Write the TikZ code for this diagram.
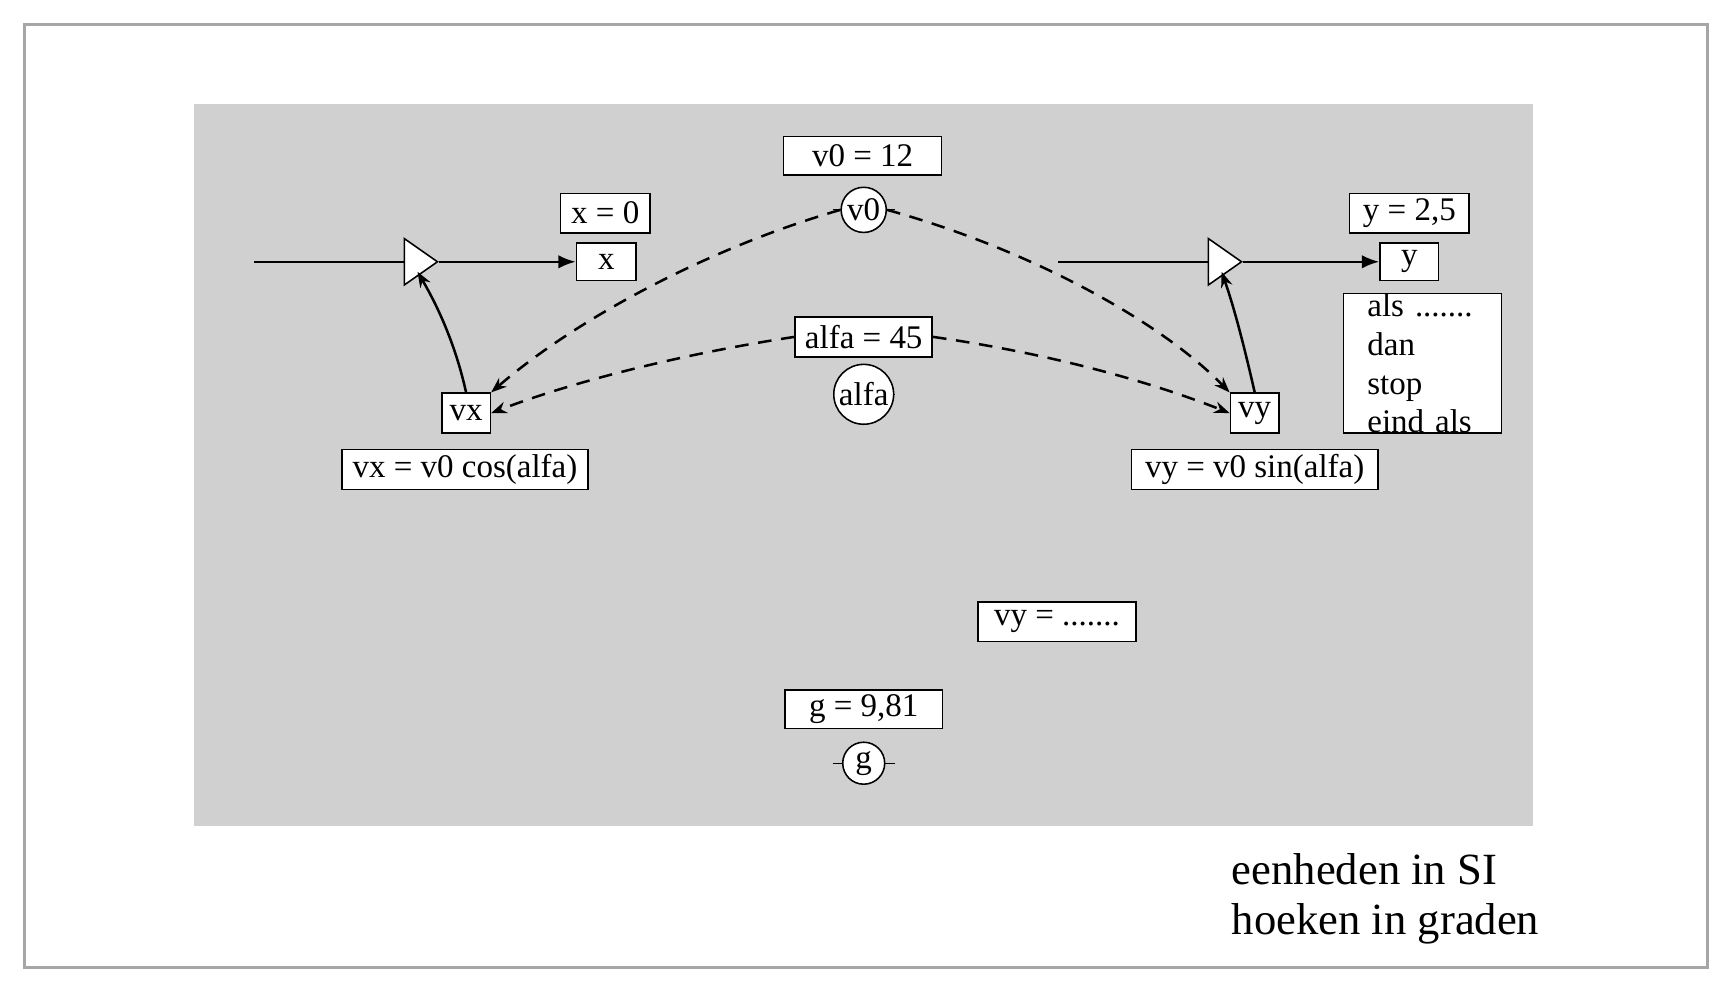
\documentclass[tikz,border=0pt]{standalone}
\usepackage{fontspec}
\setmainfont{Liberation Serif}
\usetikzlibrary{arrows.meta,shapes.geometric}
\definecolor{bg}{HTML}{D0D0D0}
\begin{document}
\begin{tikzpicture}[x=0.02cm,y=-0.02cm,font=\fontsize{17}{20}\selectfont,
  box/.style={draw,fill=white,inner sep=0pt,line width=0.8pt},
  circ/.style={draw,fill=white,circle,inner sep=1pt,line width=0.8pt},
  flow/.style={line width=1.3pt,-{Latex[length=9pt,width=7pt]}},
  link/.style={line width=1.3pt,dashed,dash pattern=on 7pt off 5pt,-{Stealth[length=8pt,width=6pt]}},
  valve/.style={draw,fill=white,isosceles triangle,isosceles triangle apex angle=70,minimum height=30\pgflinewidth,inner sep=0pt,line width=0.8pt,minimum size=0.5cm}]
\useasboundingbox (0,0) rectangle (1560,894);
\draw[gray!70,line width=1.5pt] (22,22) rectangle (1546,876);
\fill[bg] (176,94) rectangle (1388,748);
% left
\node[box,minimum width=143*0.02cm,minimum height=35*0.02cm] (v0e) at (781,141) {v0 = 12};
\draw (754,190) -- (810,190);
\node[circ,minimum size=40*0.02cm] (v0) at (782,190) {v0};
\node[box,minimum width=81*0.02cm,minimum height=36*0.02cm] (x0) at (548,193) {x = 0};
\node[box,minimum width=54*0.02cm,minimum height=34*0.02cm] (x) at (549,237) {x};
\coordinate (xs) at (230,237);
\node[valve,minimum width=0.55cm,minimum height=0.6cm] (vl) at (377,237) {};
\draw[line width=1.3pt] (xs) -- (vl.west);
\draw[flow] (vl.apex) -- (x.west);
\node[box,minimum width=44*0.02cm,minimum height=36*0.02cm] (vx) at (422,374) {vx};
\node[box,minimum width=223*0.02cm,minimum height=36*0.02cm] (vxe) at (421,425) {vx = v0 cos(alfa)};
\draw[line width=1.3pt,-{Stealth[length=8pt,width=6pt]}] (vx.north) .. controls (412,310) and (395,275) .. (378,246);
% alfa
\node[box,minimum width=124*0.02cm,minimum height=36*0.02cm] (ae) at (782,305) {alfa = 45};
\draw (754,357) -- (810,357);
\node[circ,minimum size=52*0.02cm] (al) at (782,357) {alfa};
% right
\node[box,minimum width=108*0.02cm,minimum height=36*0.02cm] (y0) at (1276,193) {y = 2,5};
\node[box,minimum width=53*0.02cm,minimum height=34*0.02cm] (y) at (1276,237) {y};
\coordinate (ys) at (958,237);
\node[valve,minimum width=0.55cm,minimum height=0.6cm] (vr) at (1105,237) {};
\draw[line width=1.3pt] (ys) -- (vr.west);
\draw[flow] (vr.apex) -- (y.west);
\node[box,minimum width=44*0.02cm,minimum height=36*0.02cm] (vy) at (1136,374) {vy};
\node[box,minimum width=223*0.02cm,minimum height=36*0.02cm] (vye) at (1136,425) {vy = v0 sin(alfa)};
\draw[line width=1.3pt,-{Stealth[length=8pt,width=6pt]}] (vy.north) .. controls (1128,320) and (1118,280) .. (1106,246);
\node[box,minimum width=143*0.02cm,minimum height=113*0.02cm,align=left,text width=100*0.02cm] (als) at (1288,329) {als .......\\dan stop\\eind als};
% misc
\node[box,minimum width=143*0.02cm,minimum height=36*0.02cm] (vyd) at (957,563) {vy = .......};
\node[box,minimum width=143*0.02cm,minimum height=35*0.02cm] (ge) at (782,642) {g = 9,81};
\draw (754,691) -- (810,691);
\node[circ,minimum size=38*0.02cm] (g) at (782,691) {g};
% links
\draw[link] (v0.west) .. controls (640,225) and (520,290) .. (vx.north east);
\draw[link] (v0.east) .. controls (930,225) and (1050,290) .. (vy.north west);
\draw[link] (ae.west) .. controls (620,320) and (520,345) .. (vx.east);
\draw[link] (ae.east) .. controls (950,320) and (1040,345) .. (vy.west);
\node[anchor=north west,align=left,inner sep=0pt,font=\fontsize{23}{26}\selectfont] (si) at (1115,772) {eenheden in SI\\hoeken in graden};
\end{tikzpicture}
\end{document}
